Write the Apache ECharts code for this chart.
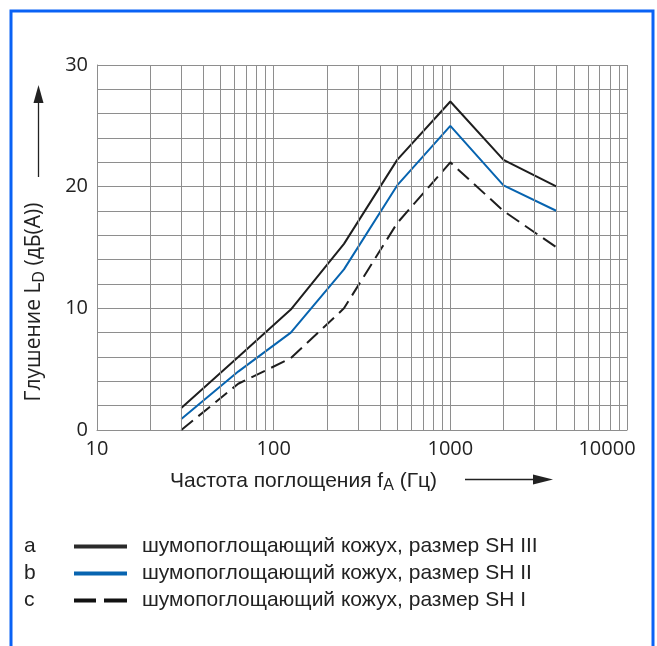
<!DOCTYPE html>
<html>
<head>
<meta charset="utf-8">
<script src="https://cdn.jsdelivr.net/npm/echarts@6/dist/echarts.min.js"></script>
<style>
  html, body { margin: 0; padding: 0; background: #fff; }
  #chart { width: 657px; height: 646px; }
</style>
</head>
<body>
<div id="chart"></div>
<script>
// частоты (Гц) и значения глушения (дБ(А))
var freqs = [30, 63, 125, 250, 500, 1000, 2000, 4000];
var sh3 = [1.8, 6.0, 9.9, 15.3, 22.2, 27.0, 22.2, 20.0];
var sh2 = [0.9, 4.8, 8.0, 13.2, 20.1, 25.0, 20.1, 18.0];
var sh1 = [0.0, 3.8, 5.9, 10.0, 17.0, 22.0, 18.0, 15.0];
var letters = ['a', 'b', 'c'];
var names = [
  'шумопоглощающий кожух, размер SH III',
  'шумопоглощающий кожух, размер SH II',
  'шумопоглощающий кожух, размер SH I'
];
// промежуточные линии сетки по оси X
var minorFreqs = [20, 30, 40, 50, 60, 70, 80, 90,
  200, 300, 400, 500, 600, 700, 800, 900,
  2000, 3000, 4000, 5000, 6000, 7000, 8000, 9000];

var gridColor = '#8e8e8e';
var textColor = '#222';

function pairs(vals) {
  return freqs.map(function (f, i) { return [f, vals[i]]; });
}

var myChart = echarts.init(document.getElementById('chart'));

var options = {
  animation: false,
  grid: { left: 97, top: 65, right: 30, bottom: 216 },
  xAxis: {
    type: 'log',
    logBase: 10,
    min: 10,
    max: 10000,
    axisLine: { lineStyle: { color: gridColor, width: 1 } },
    axisTick: { show: false },
    splitLine: { show: true, lineStyle: { color: gridColor, width: 1 } },
    axisLabel: {
      margin: 9,
      color: textColor,
      fontFamily: 'Open Sans',
      fontSize: 20,
      showMinLabel: true,
      showMaxLabel: true,
      formatter: function (v) {
        var s = String(Math.round(v));
        // последняя подпись сдвинута внутрь рамки
        return v >= 10000 ? '{last|' + s + '}' : s;
      },
      rich: {
        last: { fontFamily: 'Open Sans', fontSize: 20, color: textColor, padding: [0, 40, 0, 0] }
      }
    }
  },
  yAxis: {
    type: 'value',
    min: 0,
    max: 30,
    interval: 10,
    axisLine: { show: true, lineStyle: { color: gridColor, width: 1 } },
    axisTick: { show: false },
    splitLine: { show: true, lineStyle: { color: gridColor, width: 1 } },
    minorTick: { show: false, splitNumber: 5 },
    minorSplitLine: { show: true, lineStyle: { color: gridColor, width: 1 } },
    axisLabel: {
      margin: 9,
      color: textColor,
      fontFamily: 'Open Sans',
      fontSize: 20
    }
  },
  legend: {
    orient: 'vertical',
    left: 69,
    top: 531,
    itemWidth: 53,
    itemHeight: 4,
    itemGap: 6,
    selectedMode: false,
    textStyle: {
      fontFamily: 'Liberation Sans',
      fontSize: 21,
      color: textColor,
      padding: [0, 0, 0, 10]
    },
    data: [
      { name: names[0], icon: 'rect', itemStyle: { color: '#2a2a2a' } },
      { name: names[1], icon: 'rect', itemStyle: { color: '#0764b0' } },
      { name: names[2], icon: 'path://M0,0h22v4h-22z M30,0h23v4h-23z', itemStyle: { color: '#111' } }
    ]
  },
  series: [
    {
      // сетка 20..90, 200..900 ...
      type: 'line',
      data: [],
      z: 1,
      silent: true,
      markLine: {
        silent: true,
        symbol: 'none',
        label: { show: false },
        lineStyle: { color: gridColor, width: 1, type: 'solid' },
        data: minorFreqs.map(function (f) { return { xAxis: f }; })
      }
    },
    {
      name: names[0],
      type: 'line',
      symbol: 'none',
      lineStyle: { color: '#1e1e1e', width: 2 },
      itemStyle: { color: '#1e1e1e' },
      data: pairs(sh3)
    },
    {
      name: names[1],
      type: 'line',
      symbol: 'none',
      lineStyle: { color: '#0764b0', width: 2 },
      itemStyle: { color: '#0764b0' },
      data: pairs(sh2)
    },
    {
      name: names[2],
      type: 'line',
      symbol: 'none',
      lineStyle: { color: '#1e1e1e', width: 2, type: [15, 7] },
      itemStyle: { color: '#1e1e1e' },
      data: pairs(sh1)
    }
  ],
  graphic: [
    // синяя рамка
    {
      type: 'rect',
      shape: { x: 11, y: 11, width: 642, height: 700 },
      style: { fill: null, stroke: '#0a62f5', lineWidth: 3 },
      silent: true
    },
    // подпись оси Y
    {
      type: 'text',
      x: 34,
      y: 302,
      rotation: Math.PI / 2,
      style: {
        text: 'Глушение L{sub|D} (дБ(А))',
        fontFamily: 'Open Sans',
        fontSize: 21,
        fill: textColor,
        align: 'center',
        verticalAlign: 'middle',
        rich: { sub: { fontFamily: 'Open Sans', fontSize: 16, padding: [10, 0, 0, 0], fill: textColor } }
      }
    },
    { type: 'line', shape: { x1: 38.5, y1: 177, x2: 38.5, y2: 100 }, style: { stroke: textColor, lineWidth: 1.3 } },
    { type: 'polygon', shape: { points: [[33.5, 103], [38.5, 85], [43.5, 103]] }, style: { fill: textColor } },
    // подпись оси X
    {
      type: 'text',
      x: 170,
      y: 481,
      style: {
        text: 'Частота поглощения f{sub|A} (Гц)',
        fontFamily: 'Liberation Sans',
        fontSize: 21,
        fill: textColor,
        align: 'left',
        verticalAlign: 'middle',
        rich: { sub: { fontFamily: 'Liberation Sans', fontSize: 16, padding: [10, 0, 0, 0], fill: textColor } }
      }
    },
    { type: 'line', shape: { x1: 465, y1: 479.5, x2: 540, y2: 479.5 }, style: { stroke: textColor, lineWidth: 1.3 } },
    { type: 'polygon', shape: { points: [[533, 474.5], [553, 479.5], [533, 484.5]] }, style: { fill: textColor } }
  ]
};

// буквы a, b, c перед легендой
letters.forEach(function (l, i) {
  options.graphic.push({
    type: 'text',
    x: 24,
    y: 546 + i * 27,
    style: {
      text: l,
      fontFamily: 'Liberation Sans',
      fontSize: 21,
      fill: textColor,
      verticalAlign: 'middle'
    }
  });
});

myChart.setOption(options);
</script>
</body>
</html>
